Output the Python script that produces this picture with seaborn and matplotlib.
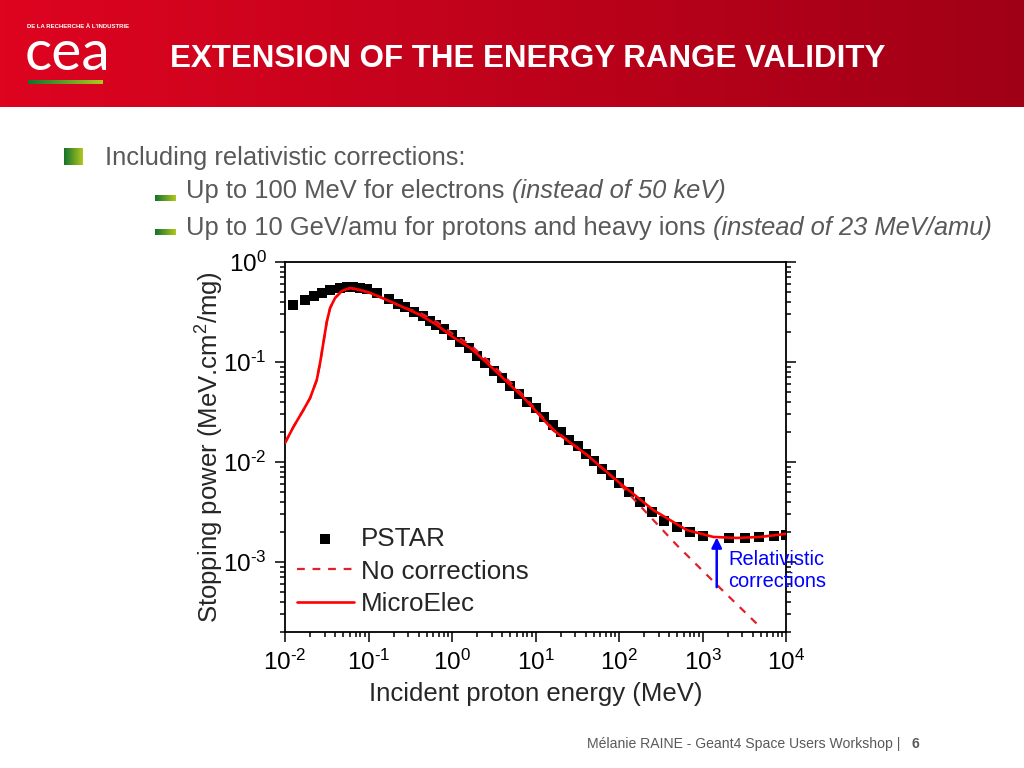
import matplotlib
matplotlib.use("Agg")
import matplotlib.pyplot as plt
import numpy as np
import seaborn as sns
from matplotlib.ticker import LogLocator, NullFormatter, FuncFormatter

# PSTAR reference values (proton energy in MeV, stopping power in MeV.cm2/mg)
pstar_energy = [0.0125, 0.0175, 0.0225, 0.0275, 0.035, 0.045, 0.055, 0.065, 0.08, 0.095,
                0.125, 0.175, 0.225, 0.275, 0.35, 0.45, 0.55, 0.65, 0.8, 1.0,
                1.25, 1.6, 2.0, 2.5, 3.2, 4.0, 5.0, 6.3, 8.0, 10,
                12.5, 16, 20, 25, 32, 40, 50, 63, 80, 100,
                130, 180, 250, 350, 500, 700, 1000, 2100, 3200, 4800, 7200, 10000]
pstar_sp = [0.372, 0.417, 0.452, 0.490, 0.525, 0.550, 0.562, 0.556, 0.550, 0.531,
            0.490, 0.427, 0.380, 0.355, 0.316, 0.288, 0.257, 0.234, 0.214, 0.186,
            0.158, 0.138, 0.115, 0.0977, 0.0813, 0.0692, 0.0575, 0.0479, 0.0398, 0.0347,
            0.0282, 0.0234, 0.0200, 0.0166, 0.0145, 0.0120, 0.0102, 0.00851, 0.00741, 0.00617,
            0.00501, 0.00398, 0.00316, 0.00257, 0.00224, 0.00200, 0.00182, 0.00174, 0.00174,
            0.00178, 0.00182, 0.00186]

# MicroElec with relativistic corrections
microelec_energy = [0.01, 0.0126, 0.0166, 0.02, 0.024, 0.0263, 0.0288, 0.0316, 0.0347, 0.0398,
                    0.0479, 0.0603, 0.0794, 0.105, 0.166, 0.257, 0.417, 0.661, 1.02, 1.66,
                    2.63, 4.07, 7.08, 16.2, 41.7, 102, 257, 646, 1350, 2570, 4900, 10000]
microelec_sp = [0.0155, 0.0224, 0.0331, 0.0437, 0.0661, 0.0977, 0.155, 0.251, 0.347, 0.437,
                0.513, 0.550, 0.525, 0.490, 0.417, 0.355, 0.295, 0.234, 0.178, 0.138,
                0.0977, 0.0692, 0.0447, 0.0209, 0.0117, 0.00617, 0.00331, 0.00209, 0.00178,
                0.00174, 0.00178, 0.00191]

# MicroElec without corrections
nocorr_energy = [0.01, 0.0126, 0.0166, 0.02, 0.024, 0.0263, 0.0288, 0.0316, 0.0347, 0.0398,
                 0.0479, 0.0603, 0.0794, 0.105, 0.166, 0.257, 0.417, 0.661, 1.02, 1.66,
                 2.63, 4.07, 7.08, 16.2, 41.7, 102, 162, 490, 1580, 4900]
nocorr_sp = [0.0155, 0.0224, 0.0331, 0.0437, 0.0661, 0.0977, 0.155, 0.251, 0.347, 0.437,
             0.513, 0.550, 0.525, 0.490, 0.417, 0.355, 0.309, 0.251, 0.191, 0.148,
             0.105, 0.0741, 0.0468, 0.0214, 0.0117, 0.00603, 0.00398, 0.00148, 0.000562,
             0.000224]

title = "EXTENSION OF THE ENERGY RANGE VALIDITY"
bullet_main = "Including relativistic corrections:"
sub_bullets = [("Up to 100 MeV for electrons ", "(instead of 50 keV)"),
               ("Up to 10 GeV/amu for protons and heavy ions ", "(instead of 23 MeV/amu)")]
footer = "Mélanie RAINE - Geant4 Space Users Workshop | "
page = "6"

sns.set_style("ticks")
plt.rcParams["font.family"] = ["Liberation Sans", "DejaVu Sans"]
plt.rcParams["axes.unicode_minus"] = False
plt.rcParams["mathtext.fontset"] = "custom"
plt.rcParams["mathtext.rm"] = "Liberation Sans"
plt.rcParams["mathtext.it"] = "Liberation Sans:italic"

fig = plt.figure(figsize=(10.24, 7.68), dpi=100)

# slide decoration layer, in pixel coordinates
deco = fig.add_axes([0, 0, 1, 1], zorder=0)
deco.set_xlim(0, 1024)
deco.set_ylim(768, 0)
deco.axis("off")

red_grad = np.zeros((2, 256, 3))
red_grad[..., 0] = np.linspace(222, 160, 256) / 255
red_grad[..., 1] = np.linspace(4, 0, 256) / 255
red_grad[..., 2] = np.linspace(32, 22, 256) / 255
deco.imshow(red_grad, extent=[0, 1024, 107, 0], aspect="auto")

green_grad = np.zeros((2, 64, 3))
green_grad[..., 0] = np.linspace(20, 175, 64) / 255
green_grad[..., 1] = np.linspace(115, 200, 64) / 255
green_grad[..., 2] = np.linspace(45, 30, 64) / 255
deco.imshow(green_grad, extent=[28, 103, 84, 80], aspect="auto")
deco.imshow(green_grad, extent=[64, 83, 165, 148], aspect="auto")
deco.imshow(green_grad, extent=[155, 176, 201, 195], aspect="auto")
deco.imshow(green_grad, extent=[155, 176, 235, 229], aspect="auto")

deco.text(27, 27, "DE LA RECHERCHE À L'INDUSTRIE", color="white", fontsize=4.3,
          fontweight="bold", va="center", ha="left")
deco.text(25, 70, "cea", color="white", fontsize=41, family=["Lato", "DejaVu Sans"],
          va="baseline", ha="left")
deco.text(170, 67, title, color="white", fontsize=22.5, fontweight="bold", va="baseline", ha="left")

grey = "#595959"
deco.text(105, 164.5, bullet_main, color=grey, fontsize=18.4, va="baseline", ha="left")
renderer = fig.canvas.get_renderer()
for (plain, italic), base in zip(sub_bullets, [198, 234.5]):
    t = deco.text(186, base, plain, color=grey, fontsize=18.4, va="baseline", ha="left")
    x_end = t.get_window_extent(renderer=renderer).x1
    deco.text(x_end, base, italic, color=grey, fontsize=18.4, style="italic",
              va="baseline", ha="left")

f = deco.text(587, 748, footer, color=grey, fontsize=10.1, va="baseline", ha="left")
x_end = f.get_window_extent(renderer=renderer).x1
deco.text(x_end + 7, 748, page, color=grey, fontsize=10.1, fontweight="bold", va="baseline", ha="left")

# the chart
ax = fig.add_axes([285 / 1024, 1 - 632 / 768, 501 / 1024, 370 / 768], zorder=2)
ax.set_facecolor("white")

sns.scatterplot(x=pstar_energy, y=pstar_sp, marker="s", s=60, color="black",
                linewidth=0, label="PSTAR", ax=ax, zorder=2)
sns.lineplot(x=nocorr_energy, y=nocorr_sp, estimator=None, color="#e0202a", linewidth=1.6,
             linestyle=(0, (3.5, 3.5)), label="No corrections", ax=ax, zorder=3)
sns.lineplot(x=microelec_energy, y=microelec_sp, estimator=None, color="#ff0000", linewidth=1.9,
             label="MicroElec", ax=ax, zorder=4)

ax.set_xscale("log")
ax.set_yscale("log")
ax.set_xlim(1e-2, 1e4)
ax.set_ylim(10 ** -3.7, 1)


def power_label(v, pos):
    e = int(round(np.log10(v)))
    exp = r"\text{-}%d" % -e if e < 0 else "%d" % e
    return r"$\mathregular{10^{%s}}$" % exp


ax.xaxis.set_major_locator(LogLocator(base=10, numticks=10))
ax.xaxis.set_minor_locator(LogLocator(base=10, subs=np.arange(2, 10), numticks=20))
ax.yaxis.set_major_locator(LogLocator(base=10, numticks=10))
ax.yaxis.set_minor_locator(LogLocator(base=10, subs=np.arange(2, 10), numticks=20))
ax.xaxis.set_major_formatter(FuncFormatter(power_label))
ax.yaxis.set_major_formatter(FuncFormatter(power_label))
ax.xaxis.set_minor_formatter(NullFormatter())
ax.yaxis.set_minor_formatter(NullFormatter())

ax.tick_params(which="both", direction="out", top=False, right=True, colors="black",
               width=1.1, labelsize=17.5)
ax.tick_params(which="major", length=7, pad=6)
ax.tick_params(which="minor", length=3.5)
for sp in ax.spines.values():
    sp.set_color("black")
    sp.set_linewidth(1.3)

ax.set_xlabel("Incident proton energy (MeV)", fontsize=18.5)
ax.set_ylabel("Stopping power (MeV.cm$^2$/mg)", fontsize=18.5)
ax.xaxis.set_label_coords(0.5, -0.135)
ax.yaxis.set_label_coords(-0.117, 0.5)

ax.annotate("", xy=(1480, 0.00176), xytext=(1480, 0.00056),
            arrowprops=dict(arrowstyle="-|>", color="blue", lw=1.8, mutation_scale=15,
                            shrinkA=0, shrinkB=0), zorder=5)
ax.text(2040, 0.00083, "Relativistic\ncorrections", color="blue", fontsize=14.4,
        va="center", ha="left", linespacing=1.2, zorder=5)

ax.legend(loc="upper left", bbox_to_anchor=(0.008, 0.305), frameon=False, fontsize=18.7,
          handlelength=2.2, handletextpad=0.27, labelspacing=0.33, borderpad=0.3,
          borderaxespad=0)

fig.savefig("out.png", dpi=100)
